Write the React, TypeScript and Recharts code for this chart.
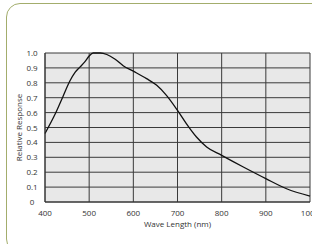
import { LineChart, Line, XAxis, YAxis, CartesianGrid, Label } from 'recharts'

const wavelengths = [400, 423, 441, 456, 468, 479, 490, 500, 509, 525, 540, 558, 577, 600, 630, 653, 675, 700, 720, 743, 766, 800, 849, 900, 947, 1000]
const response = [0.46, 0.59, 0.71, 0.81, 0.87, 0.905, 0.94, 0.98, 1.0, 1.0, 0.99, 0.96, 0.915, 0.878, 0.828, 0.783, 0.716, 0.615, 0.526, 0.436, 0.369, 0.313, 0.235, 0.157, 0.089, 0.04]
const xTicks = [400, 500, 600, 700, 800, 900, 1000]
const yTicks = [0, 0.1, 0.2, 0.3, 0.4, 0.5, 0.6, 0.7, 0.8, 0.9, 1.0]

const data = wavelengths.map((w, i) => ({ w, r: response[i] }))

const font = '"Open Sans", "Liberation Sans", sans-serif'

// tick labels are centred in a column just left of the plot
function YTick(props: any) {
  const { y, payload } = props
  const v = payload.value
  return (
    <text x={32} y={y + 3} textAnchor="middle" fontSize={8} fill="#333" fontFamily={font}>
      {v === 0 ? '0' : v.toFixed(1)}
    </text>
  )
}

function YLabel(props: any) {
  const { viewBox } = props
  const cy = viewBox.y + viewBox.height / 2
  return (
    <text
      transform={`translate(22, ${cy}) rotate(-90)`}
      textAnchor="middle"
      fontSize={8}
      fill="#333"
      fontFamily={font}
    >
      Relative Response
    </text>
  )
}

export default function App() {
  return (
    <div style={{ position: 'relative', width: 312, height: 244, overflow: 'hidden', background: '#fff' }}>
      <style>{`body{margin:0;overflow:hidden}`}</style>
      {/* rounded frame */}
      <div
        style={{
          position: 'absolute',
          left: 6,
          top: 3,
          width: 320,
          height: 250,
          border: '1.5px solid #a3ad6c',
          borderRadius: 14,
          boxSizing: 'border-box',
        }}
      />
      <div style={{ position: 'absolute', left: 0, top: 0 }}>
        <LineChart width={340} height={244} data={data} margin={{ top: 53, right: 30, left: 0, bottom: 0 }}>
          <CartesianGrid fill="#e8e8e8" stroke="#3a3a3a" strokeWidth={1} />
          <XAxis
            dataKey="w"
            type="number"
            domain={[400, 1000]}
            ticks={xTicks}
            interval={0}
            axisLine={{ stroke: '#333' }}
            tickLine={false}
            tick={{ fontSize: 8, fill: '#333', fontFamily: font }}
            tickMargin={2}
            height={42}
          >
            <Label value="Wave Length (nm)" position="insideTop" offset={19} fontSize={8} fill="#333" fontFamily={font} />
          </XAxis>
          <YAxis
            type="number"
            domain={[0, 1]}
            ticks={yTicks}
            interval={0}
            width={45}
            axisLine={{ stroke: '#333' }}
            tickLine={false}
            tick={<YTick />}
          >
            <Label content={<YLabel />} />
          </YAxis>
          <Line type="monotone" dataKey="r" stroke="#111" strokeWidth={1.3} dot={false} isAnimationActive={false} />
        </LineChart>
      </div>
    </div>
  )
}
